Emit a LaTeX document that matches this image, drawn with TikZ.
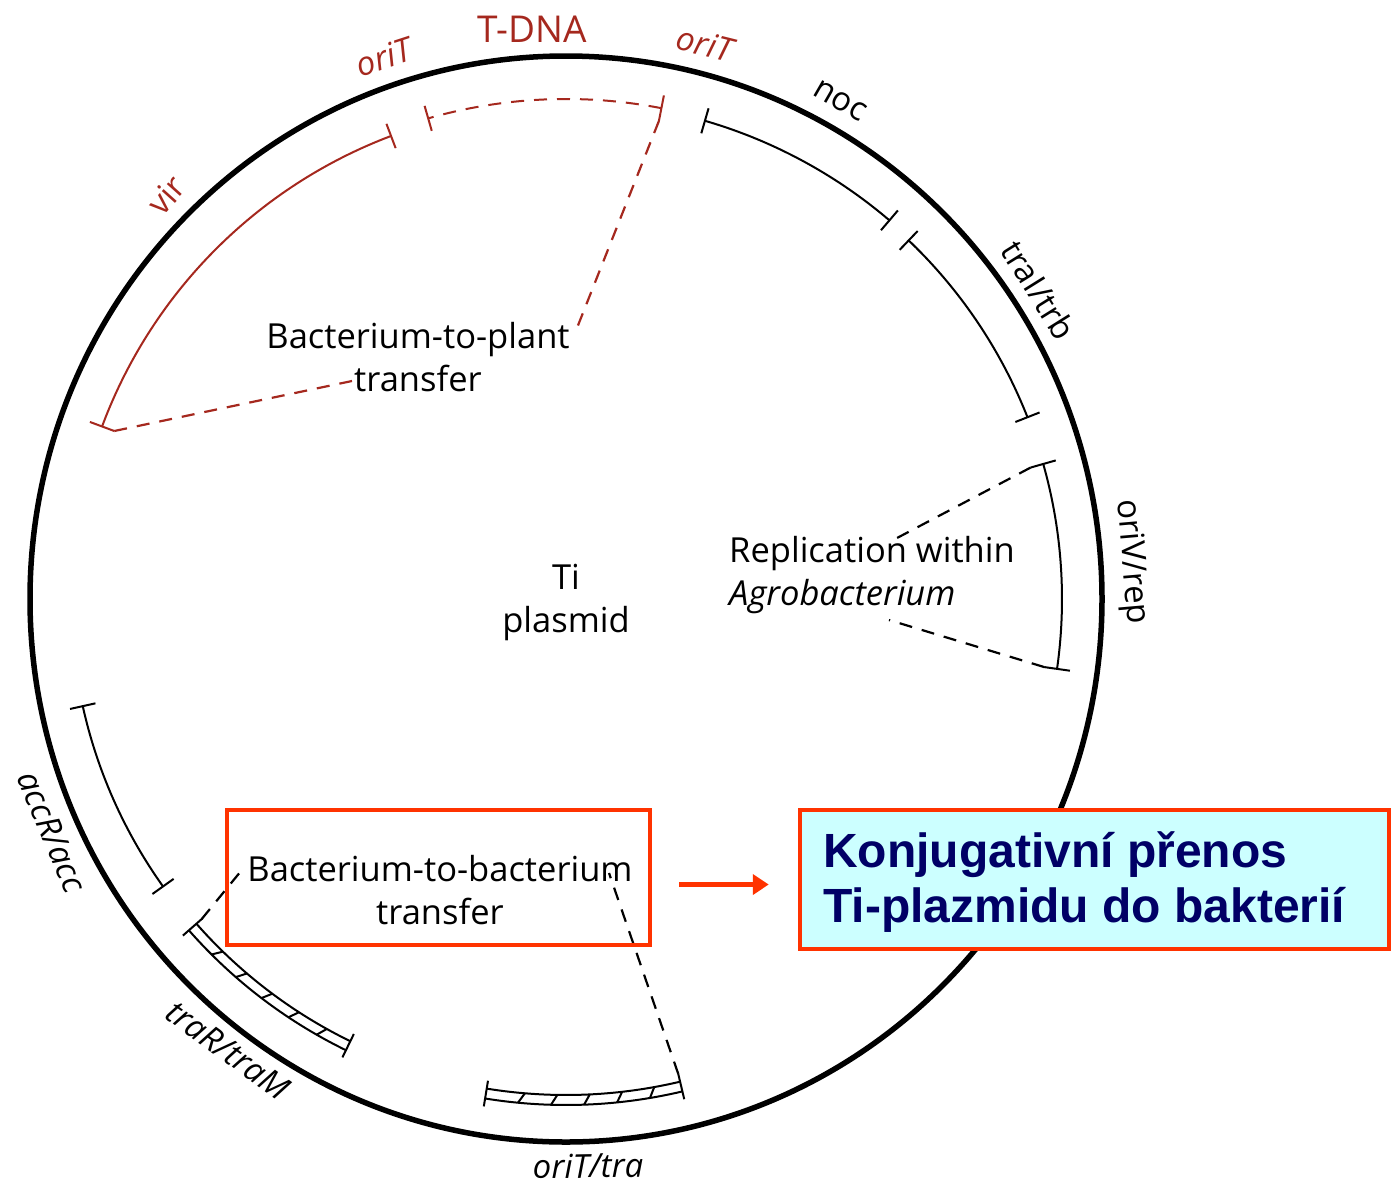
\documentclass[tikz,border=0pt]{standalone}
\usepackage{fontspec}
\setmainfont{Open Sans}
\newfontfamily\arialfont{Liberation Sans}
\usetikzlibrary{calc,arrows.meta}
\definecolor{dred}{RGB}{165,40,30}
\definecolor{bred}{RGB}{255,51,0}
\definecolor{cyanbg}{RGB}{204,255,255}
\definecolor{navytext}{RGB}{0,0,102}
% visual-angle helpers (y axis points down)
\newcommand\genearc[4]{% style, radius, angle1, angle2
  \pgfmathsetmacro\gaA{-(#3)}\pgfmathsetmacro\gaB{-(#4)}%
  \draw[#1] ($(C)+(\gaA:#2)$) arc[start angle=\gaA, end angle=\gaB, radius=#2];}
\newcommand\genetick[4]{% style, inner r, outer r, angle
  \pgfmathsetmacro\gaA{-(#4)}%
  \draw[#1] ($(C)+(\gaA:#2)$) -- ($(C)+(\gaA:#3)$);}
\newcommand\hatcharc[5]{% style, r inner, r outer, angle1, angle2
  \genearc{#1}{#2}{#4}{#5}\genearc{#1}{#3}{#4}{#5}%
  \genetick{#1}{#2-8}{#3+8}{#4}\genetick{#1}{#2-8}{#3+8}{#5}%
  \foreach \k in {1,...,5}{%
    \pgfmathsetmacro\hA{-((#4)+\k*((#5)-(#4))/6)}%
    \pgfmathsetmacro\hB{\hA-0.7}%
    \draw[#1] ($(C)+(\hA:#3)$) -- ($(C)+(\hB:#2)$);}}
\begin{document}
\begin{tikzpicture}[x=1pt,y=-1pt,
  arcline/.style={line width=2pt},
  redarc/.style={line width=2pt,draw=dred},
  dashline/.style={line width=2.2pt,dash pattern=on 13pt off 10pt},
  genelab/.style={font=\fontsize{33}{38}\selectfont,inner sep=0pt},
  itlab/.style={genelab,font=\fontsize{33}{38}\selectfont\itshape},
  midlab/.style={font=\fontsize{34.5}{43}\selectfont,align=center,inner sep=0pt},
  redbox/.style={draw=bred,line width=4.5pt,inner sep=0pt}]
\useasboundingbox (0,0) rectangle (1392,1189);
\fill[white] (0,0) rectangle (1392,1189);
\coordinate (C) at (566,599);
% plasmid circle
\draw[line width=5.5pt] (C) ellipse [x radius=536, y radius=543];

% vir (red)
\genearc{redarc}{495}{110.7}{159.6}
\genetick{redarc}{482}{508}{110.7}
\genetick{redarc}{482}{508}{159.6}
% T-DNA (red dashed)
\genearc{redarc,dash pattern=on 13pt off 10pt}{500}{79}{106}
\genetick{redarc}{487}{513}{79}
\genetick{redarc}{487}{513}{106}
% noc
\genearc{arcline}{498}{49.5}{73.8}
\genetick{arcline}{485}{511}{49.5}
\genetick{arcline}{485}{511}{73.8}
% traI/trb
\genearc{arcline}{496}{21.5}{46.3}
\genetick{arcline}{483}{509}{21.5}
\genetick{arcline}{483}{509}{46.3}
% oriV/rep
\genearc{arcline}{496}{-8.1}{15.8}
\genetick{arcline}{483}{509}{-8.1}
\genetick{arcline}{483}{509}{15.8}
% accR/acc
\genearc{arcline}{495}{192.5}{215.5}
\genetick{arcline}{482}{508}{192.5}
\genetick{arcline}{482}{508}{215.5}
% traR/traM (hatched)
\hatcharc{arcline}{492}{502}{221.3}{244}
% oriT/tra (hatched)
\hatcharc{arcline}{496}{506}{260.8}{283.3}

% arc-end coordinates for dashed connectors
\coordinate (virL) at ($(C)+(-159.6:482)$);
\coordinate (tdnaR) at ($(C)+(-79:487)$);
\coordinate (orivT) at ($(C)+(-15.8:483)$);
\coordinate (orivB) at ($(C)+(8.1:483)$);
\coordinate (traRs) at ($(C)+(-221.3:485)$);
\coordinate (oritR) at ($(C)+(-283.3:488)$);

% outer gene labels
\node[itlab,text=dred,rotate=18] (l1) at (384,57) {oriT};
\node[font=\fontsize{37}{40}\selectfont,text=dred,inner sep=0pt] (l2) at (532,29) {T-DNA};
\node[itlab,text=dred,rotate=-14] (l3) at (705,44) {oriT};
\node[genelab,rotate=-30] (l4) at (840,101) {noc};
\node[genelab,text=dred,rotate=48] (l5) at (166,195) {vir};
\node[genelab,rotate=-58] (l6) at (1039,290) {traI/trb};
\node[genelab,rotate=-85] (l7) at (1131,562) {oriV/rep};
\node[itlab,rotate=-67] (l8) at (52,832) {accR/acc};
\node[itlab,rotate=-36] (l9) at (228,1050) {traR/traM};
\node[itlab,rotate=1] (l10) at (588,1166) {oriT/tra};

% inner labels
\node[midlab] (ti) at (566,602) {Ti\\plasmid};
\node[midlab] (plant) at (418,357) {Bacterium-to-plant\\transfer};
\node[midlab,align=left,anchor=west] (repl) at (729,575) {Replication within\\\textit{Agrobacterium}};
\node[midlab] (bb) at (440,890) {Bacterium-to-bacterium\\transfer};

% dashed connectors
\coordinate (plantTR) at (575,333);
\coordinate (plantBL) at (352,381);
\draw[dashline,draw=dred] (tdnaR) -- (plantTR);
\draw[dashline,draw=dred] (virL) -- (plantBL);
\coordinate (replT) at (897,538);
\coordinate (replB) at (889,620);
\draw[dashline] (orivT) -- (replT);
\draw[dashline] (orivB) -- (replB);
\coordinate (bbL) at (241,871);
\coordinate (bbR) at (609,873);
\draw[dashline] (traRs) -- (bbL);
\draw[dashline] (oritR) -- (bbR);

% highlight boxes
\node[redbox,minimum width=423,minimum height=135] (box1) at (438.5,877.5) {};
\node[redbox,fill=cyanbg,minimum width=589,minimum height=139] (box2) at (1094.5,879.5) {};
\node[anchor=west,align=left,inner sep=0pt,text=navytext,
  font=\arialfont\bfseries\fontsize{48}{55}\selectfont] (ktext) at (823,882)
  {Konjugativní přenos\\Ti-plazmidu do bakterií};
\draw[bred,line width=5pt,-{Triangle[length=16pt,width=20pt]}]
  ([shift={(27,7)}]box1.east) -- ([shift={(-29,5)}]box2.west);
\end{tikzpicture}
\end{document}
